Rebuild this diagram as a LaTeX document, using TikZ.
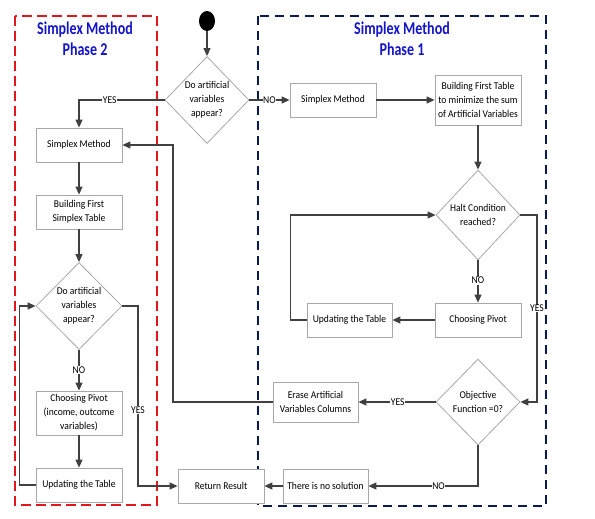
\documentclass[tikz,border=0pt]{standalone}
\usepackage{fontspec}
\setmainfont{Carlito}
\newfontfamily\boxfont[FakeStretch=0.92]{Carlito}
\newfontfamily\titlefont[FakeStretch=0.78]{Carlito}
\usetikzlibrary{shapes.geometric,arrows.meta,calc}
\definecolor{boxgray}{HTML}{A8A8A8}
\definecolor{linegray}{HTML}{404040}
\definecolor{phasered}{HTML}{E0181E}
\definecolor{phaseblue}{HTML}{0A1A55}
\definecolor{titleblue}{HTML}{1414C8}
\tikzset{
  procbox/.style={draw=boxgray, line width=0.8pt, fill=white, align=center,
    font=\boxfont\fontsize{10.4}{14}\selectfont, inner sep=1pt, text=black},
  decbox/.style={draw=boxgray, line width=0.8pt, fill=white, shape=diamond,
    inner sep=0pt, minimum width=84pt, minimum height=88pt},
  dectext/.style={align=center, font=\boxfont\fontsize{10.4}{14}\selectfont, inner sep=0pt},
  arr/.style={draw=linegray, line width=1.2pt, -{Triangle[length=8pt,width=7pt]}},
  lab/.style={fill=white, inner sep=0.5pt, font=\boxfont\fontsize{10.4}{11}\selectfont, text=black},
  phasetitle/.style={align=center, text=titleblue, font=\titlefont\bfseries\fontsize{18}{21}\selectfont},
}
\begin{document}
\begin{tikzpicture}[x=1pt,y=-1pt]
\useasboundingbox (0,0) rectangle (595,519);
% phase frames
\draw[phasered, line width=2pt, dash pattern=on 10pt off 5pt] (15,16) rectangle (157,505);
\draw[phaseblue, line width=2pt, dash pattern=on 9pt off 6pt] (258,16) rectangle (546,506);
\node[phasetitle] (t2) at (85,39) {Simplex Method\\Phase 2};
\node[phasetitle] (t1) at (402,39) {Simplex Method\\Phase 1};
% start
\node[shape=ellipse, fill=black, minimum width=16pt, minimum height=20pt, inner sep=0pt] (start) at (207,21) {};
% decisions
\node[decbox, minimum height=87pt] (d1) at (207,100) {};
\node[dectext] (d1t) at (d1.center) {Do artificial\\variables\\appear?};
\node[decbox, minimum height=90pt] (halt) at (478,215) {};
\node[dectext] (haltt) at (halt.center) {Halt Condition\\reached?};
\node[decbox, minimum height=86pt] (obj) at (478,402) {};
\node[dectext] (objt) at (obj.center) {Objective\\Function =0?};
\node[decbox, minimum width=86pt, minimum height=87pt] (d2) at (79,306) {};
\node[dectext] (d2t) at (d2.center) {Do artificial\\variables\\appear?};
% phase 1 boxes
\node[procbox, minimum width=86pt, minimum height=34pt] (sm1) at (333,100) {Simplex Method};
\node[procbox, minimum width=86pt, minimum height=50pt] (bft) at (478,100) {Building First Table\\to minimize the sum\\of Artificial Variables};
\node[procbox, minimum width=86pt, minimum height=34pt] (cp1) at (478,320) {Choosing Pivot};
\node[procbox, minimum width=85pt, minimum height=34pt] (ut1) at (349.5,320) {Updating the Table};
\node[procbox, minimum width=85pt, minimum height=40pt] (er) at (315.5,402) {Erase Artificial\\Variables Columns};
\node[procbox, minimum width=85pt, minimum height=34pt] (nos) at (325.5,486) {There is no solution};
\node[procbox, minimum width=86pt, minimum height=34pt] (rr) at (221,486) {Return Result};
% phase 2 boxes
\node[procbox, minimum width=86pt, minimum height=34pt] (sm2) at (79,145) {Simplex Method};
\node[procbox, minimum width=86pt, minimum height=34pt] (bfst) at (79,212) {Building First\\Simplex Table};
\node[procbox, minimum width=86pt, minimum height=44pt] (cp2) at (79,413) {Choosing Pivot\\(income, outcome\\variables)};
\node[procbox, minimum width=86pt, minimum height=34pt] (ut2) at (79,485) {Updating the Table};
% connectors
\draw[arr] (start) -- (d1.north);
\draw[arr] (d1.west) -| node[lab, pos=0.32] {YES} (sm2.north);
\draw[arr] (d1.east) -- node[lab, pos=0.5] {NO} (sm1.west);
\draw[arr] (sm1.east) -- (bft.west);
\draw[arr] (bft.south) -- (halt.north);
\draw[arr] (halt.south) -- node[lab, pos=0.48] {NO} (cp1.north);
\draw[arr] (cp1.west) -- (ut1.east);
\draw[arr] (ut1.west) -- ++(-16,0) |- (halt.west);
\coordinate (c1) at (537,215);
\draw[arr] (halt.east) -- (c1) |- node[lab, pos=0.25] {YES} (obj.east);
\draw[arr] (obj.west) -- node[lab, pos=0.49] {YES} (er.east);
\coordinate (c2) at (173,145);
\draw[arr] (er.west) -| (c2) -- (sm2.east);
\draw[arr] (obj.south) |- node[lab, pos=0.68] {NO} (nos.east);
\draw[arr] (nos.west) -- (rr.east);
\draw[arr] (sm2.south) -- (bfst.north);
\draw[arr] (bfst.south) -- (d2.north);
\draw[arr] (d2.south) -- node[lab, pos=0.5] {NO} (cp2.north);
\draw[arr] (cp2.south) -- (ut2.north);
\draw[arr] (ut2.west) -- ++(-16,0) |- (d2.west);
\coordinate (c3) at (138,306);
\draw[arr] (d2.east) -- (c3) |- node[lab, pos=0.29] {YES} (rr.west);
\end{tikzpicture}
\end{document}
